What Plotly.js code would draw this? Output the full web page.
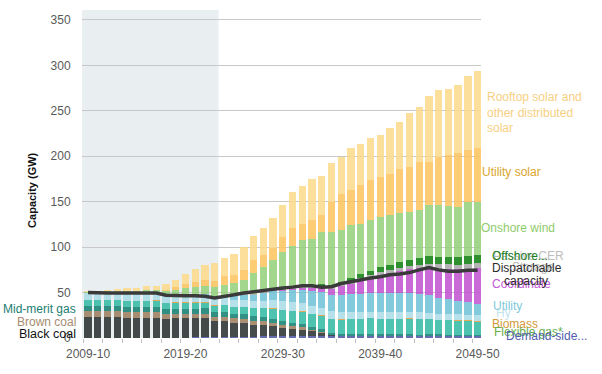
<!DOCTYPE html>
<html><head><meta charset="utf-8">
<script src="https://cdn.plot.ly/plotly-3.0.1.min.js"></script>
<style>html,body{margin:0;padding:0;background:#fff}#chart{width:602px;height:374px}</style>
</head><body><div id="chart"></div>
<script>
const years = ['2009-10','2010-11','2011-12','2012-13','2013-14','2014-15','2015-16','2016-17','2017-18','2018-19','2019-20','2020-21','2021-22','2022-23','2023-24','2024-25','2025-26','2026-27','2027-28','2028-29','2029-30','2030-31','2031-32','2032-33','2033-34','2034-35','2035-36','2036-37','2037-38','2038-39','2039-40','2040-41','2041-42','2042-43','2043-44','2044-45','2045-46','2046-47','2047-48','2048-49','2049-50'];
const tickYears = ['2009-10','2019-20','2029-30','2039-40','2049-50'];

const demandSide = [0,0,0,0,0,0,0,0.2,0.3,0.5,0.5,0.6,0.7,0.8,1,1.2,1.4,1.6,1.8,2,2,2,2,2,2,2,2,2,2,2,2,2,2,2.2,2.2,2.4,2.4,2.5,2.5,2.6,2.6];
const blackCoal = [23,23,23,23,22,22,22,22,21,21,21,21,21,18,17.5,15.5,15,13,12.5,11.5,9.5,7.5,6.5,5.5,3.5,1.5,0,0,0,0,0,0,0,0,0,0,0,0,0,0,0];
const brownCoal = [6.2,6.2,6.2,6.2,6.2,6.2,6.2,6.2,4.8,4.8,4.8,4.8,4.8,4.8,4.8,4.8,4.8,4.5,4,3.3,3.3,3.3,3.3,1.5,1.5,0,0,0,0,0,0,0,0,0,0,0,0,0,0,0,0];
const midMeritGas = [6,6,6,6,6,6,6,6,6,6,6,6,6,5.5,5.5,5,5,5,4.5,4.5,4,4,3.5,3,3,2.5,2.5,2.5,2.5,2.5,2,2,2,2,1.5,1.5,1.5,1,1,1,0.5];
const flexibleGas = [6.5,6.5,6.5,6.5,6.5,6.5,6.5,6.5,6.5,6.5,6.5,6.5,6.5,6.5,7,7.5,8,9,10,11,12,13,13.5,14,14.5,15,15.5,16,16.5,17,17,17,17,17,17,16.5,16,16,15.5,15.5,15];
const biomass = [0.4,0.4,0.4,0.4,0.4,0.4,0.4,0.4,0.4,0.4,0.4,0.4,0.4,0.4,0.4,0.4,0.4,0.4,0.4,0.4,0.4,0.4,0.4,0.4,0.4,0.4,0.4,0.4,0.4,0.4,0.4,0.4,0.4,0.4,0.4,0.4,0.4,0.4,0.4,0.4,0.4];
const hydro = [7.3,7.3,7.3,7.3,7.3,7.3,7.3,7.3,7.3,7.3,7.3,7.3,7.3,7.3,7.3,7.3,7.3,7.3,7.3,9,9,9,9,9,8.5,8,8,7.5,7.5,7,7,7,7,7,7,6.5,6.5,6.5,6.5,6.3,6.3];
const utilityStorage = [0.5,0.5,0.5,0.5,0.5,0.5,0.5,0.5,0.6,0.7,0.8,1,1.5,2,2.5,4,5.5,7,9,10.5,12,13.5,15,16,17,18,19,19.5,20,20.5,21,21,21,21,20.5,19.5,17.5,16,14.5,13.5,13];
const coordinatedCER = [0,0,0,0,0,0,0,0,0,0,0,0,0,0,0,0,0,0,0,0,0.5,1,2,3.5,5,7,9.5,12,14.5,17,20,22,24,26,28,30.5,32,33.5,35,37,38.7];
const passiveCER = [0,0,0,0,0,0,0,0,0,0,0,0,0,0,0.3,0.5,0.7,0.9,1,1.2,1.4,1.6,1.8,2,2.2,2.4,2.6,2.8,3,3.2,3.4,3.6,3.8,4,4.3,4.6,4.9,5.1,5.3,5.5,5.6];
const offshoreWind = [0,0,0,0,0,0,0,0,0,0,0,0,0,0,0,0,0,0,0,0,0,1,1.5,1.5,2,2,2.5,3,3.5,4,5,5.5,6,6.5,7,8,8,8,8.5,9,9];
const onshoreWind = [1,1.5,1.6,2.3,2.8,2.9,3.5,3.8,5,6,7.5,8.5,9.5,10.5,12,14,16,23,27.5,32.5,41,44.5,49.5,50.5,57.5,58,57,59,56,56.5,55,55,54,53,53,56.5,57.5,56,55.5,59,59];
const utilitySolar = [0,0,0,0,0.1,0.1,0.2,0.3,1.3,3,4.5,5.5,6.5,7,9.5,9.5,11,14,13.5,13,16.6,20.3,18,21,18,33,40,38.5,42.5,44,44.6,45.5,48.7,49.6,53,47.5,53,56.4,58.8,57,59];
const rooftopSolar = [0.3,0.6,0.8,1.6,3.1,3,4.1,4.3,6.5,7.9,11,14.2,16.3,19.9,20.2,23.1,24.6,26.4,30,32.9,35.2,39.8,41.7,44.7,43.7,42.3,40.6,45.8,45,45.8,45.8,49.8,52.3,58.7,60.5,72.3,73.3,72.2,75.1,81.2,84.7];
const dispatchable = [50,49.5,49.5,49.5,49.5,49.5,49.5,49.5,47,46.5,46.5,46.5,46,44,45.5,47.5,49.5,51,52.5,53.5,55,56,57.5,57.5,56,56.5,60,62,64.5,66,67.5,69.5,70.5,72,75,77.5,75,73.5,73.5,74.5,74.5];

const FONT = 'Liberation Sans, Arial, sans-serif';
const series = [
  {name:'Demand-side participation', y:demandSide, color:'#4b55a5'},
  {name:'Black coal', y:blackCoal, color:'#262b2b'},
  {name:'Brown coal', y:brownCoal, color:'#9b7b5b'},
  {name:'Mid-merit gas', y:midMeritGas, color:'#0e7e6e'},
  {name:'Flexible gas*', y:flexibleGas, color:'#2fb8a2'},
  {name:'Biomass', y:biomass, color:'#e09a3a'},
  {name:'Hydro', y:hydro, color:'#a9dbe6'},
  {name:'Utility storage', y:utilityStorage, color:'#6dc1d6'},
  {name:'Coordinated CER storage', y:coordinatedCER, color:'#c050d0'},
  {name:'Passive CER storage', y:passiveCER, color:'#a6a6a6'},
  {name:'Offshore wind', y:offshoreWind, color:'#0a7d0a'},
  {name:'Onshore wind', y:onshoreWind, color:'#93d07a'},
  {name:'Utility solar', y:utilitySolar, color:'#fdc35c'},
  {name:'Rooftop solar and other distributed solar', y:rooftopSolar, color:'#fcd98a'}
];
const traces = series.map(s => ({
  type:'bar', x:years, y:s.y, name:s.name,
  marker:{color:s.color, opacity:0.85, line:{width:0}}
}));
traces.push({type:'scatter', mode:'lines', x:years, y:dispatchable, name:'Dispatchable capacity',
  line:{color:'#3a3a3a', width:3.5}});
// empty trace that only anchors the minor-tick axis
traces.push({type:'scatter', mode:'lines', x:[], y:[], xaxis:'x2', yaxis:'y', hoverinfo:'skip'});

// minor tick positions between every second bar (axis styling, not data)
const minorTicks = [];
for (let t = -0.5; t < 40.5; t += 2) minorTicks.push(t);

function lab(text, px, gw, color, opts) {
  return Object.assign({text:text, xref:'paper', yref:'y', x:(px-82)/399, y:gw,
    xanchor:'left', yanchor:'middle', showarrow:false,
    font:{family:FONT, size:12, color:color}}, opts||{});
}
const annotations = [
  lab('Rooftop solar and<br>other distributed<br>solar', 485, 248.7, '#f7cf83', {align:'left'}),
  lab('Utility solar', 480, 182.7, '#d9a52c'),
  lab('Onshore wind', 479, 121, '#8fcc6c'),
  lab('Passive CER', 528, 90.4, '#bdbdbd', {xanchor:'center', x:(528-82)/399}),
  lab('Storage', 533, 78.5, '#bdbdbd', {xanchor:'center', x:(533-82)/399}),
  lab('Offshore...', 490, 90.4, '#1a801c'),
  lab('Dispatchable', 490, 77, '#2b2b2b'),
  lab('Coordinate', 490, 59.3, '#c258d4'),
  lab('capacity', 526, 62.2, '#2b2b2b', {xanchor:'center', x:(526-82)/399}),
  lab('Hy', 494, 27.5, '#c3e4ee'),
  lab('Utility', 491, 34.7, '#80c9dc'),
  lab('Biomass', 490, 15.4, '#d49a3a'),
  lab('Flexible gas*', 492, 6.6, '#66ad4c'),
  lab('Demand-side...', 504, 2.5, '#5060b0'),
  lab('Mid-merit gas', 78, 31.9, '#1b7d70', {xanchor:'right'}),
  lab('Brown coal', 78, 17.6, '#a58c70', {xanchor:'right'}),
  lab('Black coal', 78, 4.4, '#111111', {xanchor:'right', font:{family:FONT, size:12.5, color:'#111111'}}),
  {text:'<b>Capacity (GW)</b>', xref:'paper', yref:'y', x:(32-82)/399, y:163, textangle:-90,
   showarrow:false, xanchor:'center', yanchor:'middle', font:{family:FONT, size:11, color:'#111'}}
];

const layout = {
  width:602, height:374,
  margin:{l:82, r:121, t:10, b:36},
  paper_bgcolor:'#ffffff', plot_bgcolor:'#ffffff',
  barmode:'stack', bargap:0.25, showlegend:false,
  font:{family:FONT, size:12, color:'#595959'},
  xaxis:{type:'category', range:[-0.62, 40.35], tickvals:tickYears, ticktext:tickYears,
    showgrid:false, zeroline:false, showline:false, ticks:'outside', ticklen:5, tickcolor:'rgba(0,0,0,0)',
    tickfont:{family:FONT, size:12, color:'#595959'}},
  xaxis2:{type:'linear', overlaying:'x', anchor:'y', side:'bottom', range:[-0.62, 40.35],
    tickvals:minorTicks, showticklabels:false, ticks:'outside', ticklen:4, tickcolor:'#bfbfbf', tickwidth:1,
    showgrid:false, zeroline:false, showline:false},
  yaxis:{range:[0,361], tickvals:[0,50,100,150,200,250,300,350], showgrid:true, gridcolor:'#c8c8c8', gridwidth:1,
    zeroline:false, showline:false, ticks:'outside', ticklen:8, tickcolor:'rgba(0,0,0,0)',
    tickfont:{family:FONT, size:12, color:'#595959'}},
  shapes:[{type:'rect', xref:'x', yref:'paper', x0:-0.62, x1:13.4, y0:0, y1:1,
    fillcolor:'#e9eef1', line:{width:0}, layer:'below'}],
  annotations:annotations
};
Plotly.newPlot('chart', traces, layout, {displayModeBar:false, staticPlot:true});
</script>
</body></html>
